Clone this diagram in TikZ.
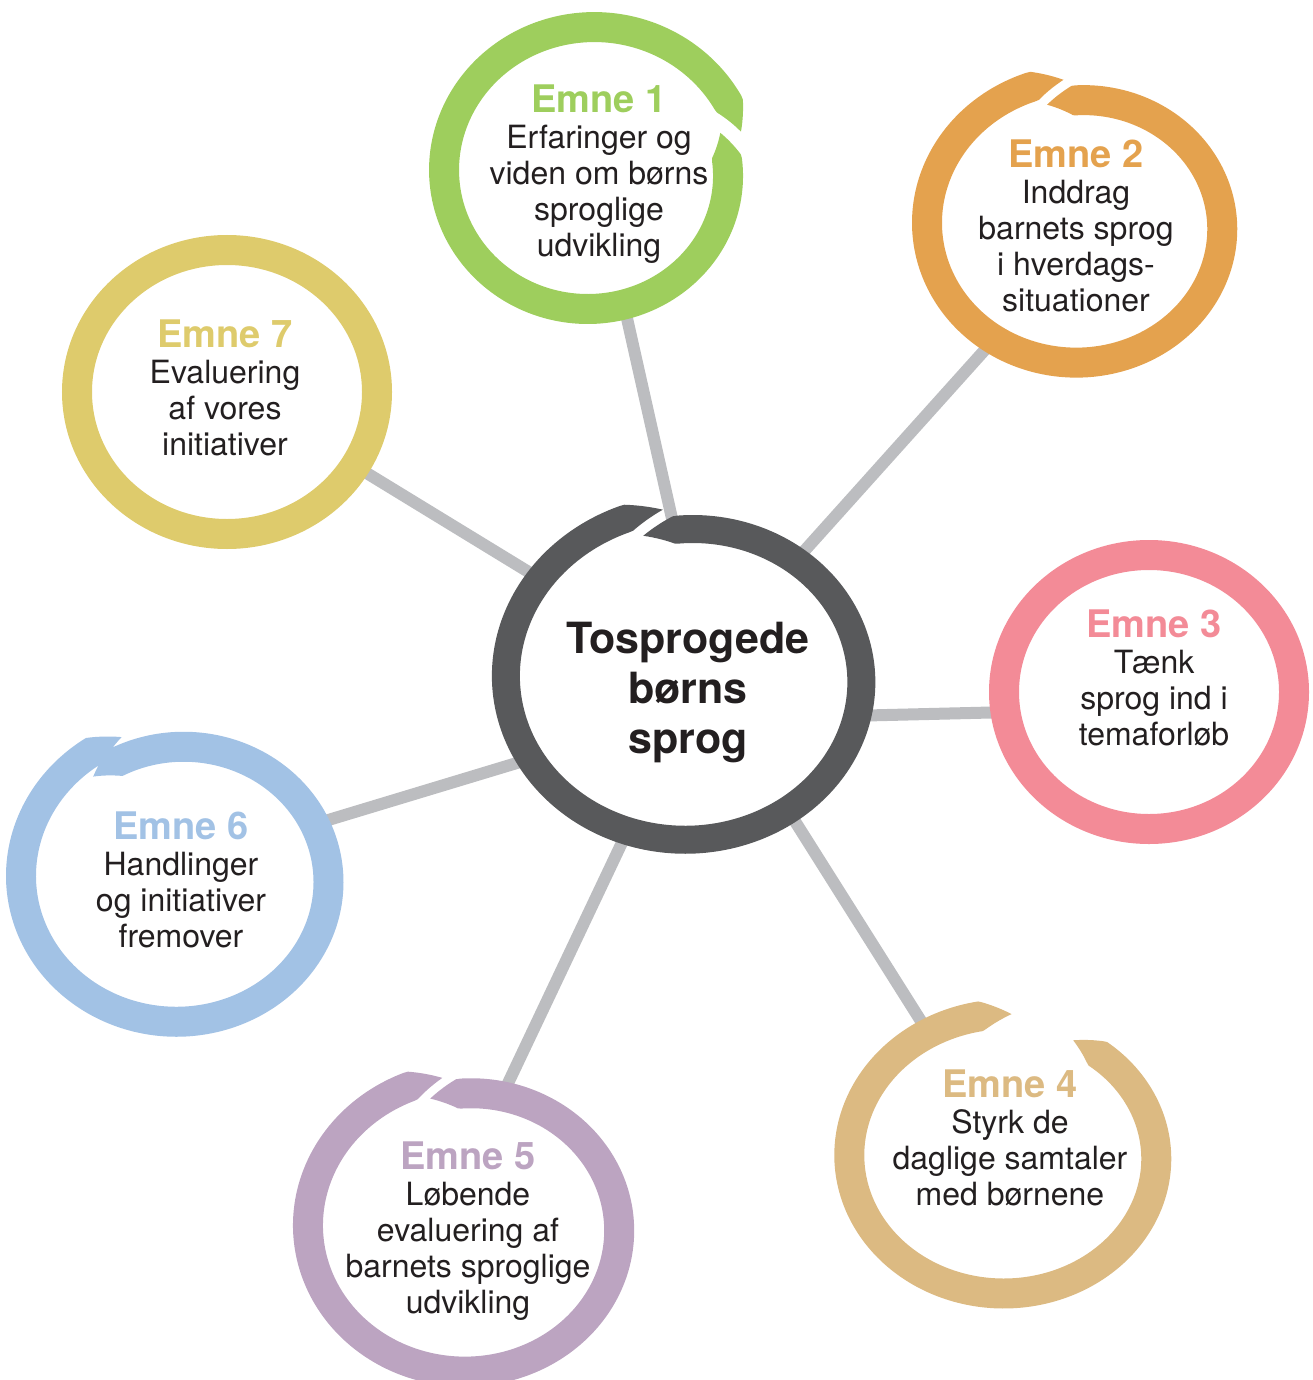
\documentclass[tikz,border=0pt]{standalone}
\usepackage{fontspec}
\setmainfont{TeX Gyre Heros}
\usetikzlibrary{shapes.geometric}
\definecolor{cgreen}{HTML}{9ECE5D}
\definecolor{corange}{HTML}{E4A24E}
\definecolor{cpink}{HTML}{F38B97}
\definecolor{ctan}{HTML}{DCBA82}
\definecolor{cpurple}{HTML}{BCA4C1}
\definecolor{cblue}{HTML}{A2C2E5}
\definecolor{cyellow}{HTML}{DECB6C}
\definecolor{cdark}{HTML}{58595B}
\definecolor{cconn}{HTML}{BCBDC0}
\definecolor{ctext}{HTML}{231F20}
% open brush ring as a filled spiral band with tapered ends
% #1 cx, #2 cy, #3 rx, #4 ry, #5 start angle, #6 sweep, #7 radius growth, #8 width, #9 colour
\newcommand{\brushring}[9]{%
  \fill[#9] plot[domain=0:#6, samples=240, variable=\t]
    ({#1+(#3-#7/2+#7*\t/#6+#8/2*min(1,\t/11,(#6-\t)/11))*cos(#5+\t)},
     {#2+(#4-#7/2+#7*\t/#6+#8/2*min(1,\t/11,(#6-\t)/11))*sin(#5+\t)})
    -- plot[domain=0:#6, samples=240, variable=\t]
    ({#1+(#3-#7/2+#7*(#6-\t)/#6-#8/2*min(1,\t/11,(#6-\t)/11))*cos(#5+#6-\t)},
     {#2+(#4-#7/2+#7*(#6-\t)/#6-#8/2*min(1,\t/11,(#6-\t)/11))*sin(#5+#6-\t)})
    -- cycle;
}
\newcommand{\emnehead}[2]{{\fontsize{38}{38}\selectfont\bfseries\color{#1}#2}}
\begin{document}
\begin{tikzpicture}[x=1pt,y=-1pt,
  ringnode/.style={ellipse, draw=none, inner sep=0pt, outer sep=0pt},
  closedring/.style={ellipse, inner sep=0pt, outer sep=0pt, line width=30pt},
  connector/.style={draw=cconn, line width=12pt, line cap=butt},
  topictext/.style={align=center, inner sep=0pt, anchor=north, text=ctext,
    font=\fontsize{32}{36}\selectfont},
  centertext/.style={align=center, inner sep=0pt, anchor=north, text=ctext,
    font=\fontsize{43}{50}\selectfont\bfseries}]
\useasboundingbox (0,0) rectangle (1312,1380);

% ring anchor nodes
\node[ringnode, minimum width=354pt, minimum height=320pt] (c)  at (689,679) {};
\node[ringnode, minimum width=292pt, minimum height=280pt] (e1) at (591,173) {};
\node[ringnode, minimum width=294pt, minimum height=272pt] (e2) at (1080,226) {};
\node[ringnode, minimum width=290pt, minimum height=274pt] (e3) at (1149,692) {};
\node[ringnode, minimum width=308pt, minimum height=274pt] (e4) at (1006,1157) {};
\node[ringnode, minimum width=310pt, minimum height=286pt] (e5) at (468,1228) {};
\node[ringnode, minimum width=304pt, minimum height=282pt] (e6) at (180,879) {};
\node[ringnode, minimum width=300pt, minimum height=284pt] (e7) at (227,392) {};

% connectors
\draw[connector] (c.96.9)  -- (e1.284);
\draw[connector] (c.48.5)  -- (e2.233.6);
\draw[connector] (c.348.2) -- (e3.188.2);
\draw[connector] (c.307.9) -- (e4.122.7);
\draw[connector] (c.248.3) -- (e5.75.2);
\draw[connector] (c.207)   -- (e6.22.7);
\draw[connector] (c.146)   -- (e7.330.5);

% brush rings
\brushring{689}{679}{177}{160}{-106}{368}{22}{28}{cdark}
\brushring{591}{173}{146}{140}{-18}{362}{20}{30}{cgreen}
\brushring{1080}{226}{147}{136}{-104}{368}{22}{30}{corange}
\node[closedring, draw=cpink, minimum width=290pt, minimum height=274pt] (r3) at (1149,692) {};
\brushring{1006}{1157}{154}{137}{-63}{335}{12}{30}{ctan}
\brushring{468}{1228}{155}{143}{-105}{366}{18}{30}{cpurple}
\brushring{180}{879}{152}{141}{-128}{377}{22}{30}{cblue}
\node[closedring, draw=cyellow, minimum width=300pt, minimum height=284pt] (r7) at (227,392) {};

% texts
\node[centertext] (tc) at (688,622) {Tosprogede\\børns\\sprog};
\node[topictext] (t1) at (599,85) {\emnehead{cgreen}{Emne 1}\\Erfaringer og\\viden om børns\\sproglige\\udvikling};
\node[topictext] (t2) at (1076,140) {\emnehead{corange}{Emne 2}\\Inddrag\\barnets sprog\\i hverdags-\\situationer};
\node[topictext] (t3) at (1154,610) {\emnehead{cpink}{Emne 3}\\Tænk\\sprog ind i\\temaforløb};
\node[topictext] (t4) at (1010,1070) {\emnehead{ctan}{Emne 4}\\Styrk de\\daglige samtaler\\med børnene};
\node[topictext] (t5) at (468,1142) {\emnehead{cpurple}{Emne 5}\\Løbende\\evaluering af\\barnets sproglige\\udvikling};
\node[topictext] (t6) at (181,812) {\emnehead{cblue}{Emne 6}\\Handlinger\\og initiativer\\fremover};
\node[topictext] (t7) at (225,320) {\emnehead{cyellow}{Emne 7}\\Evaluering\\af vores\\initiativer};
\end{tikzpicture}
\end{document}
